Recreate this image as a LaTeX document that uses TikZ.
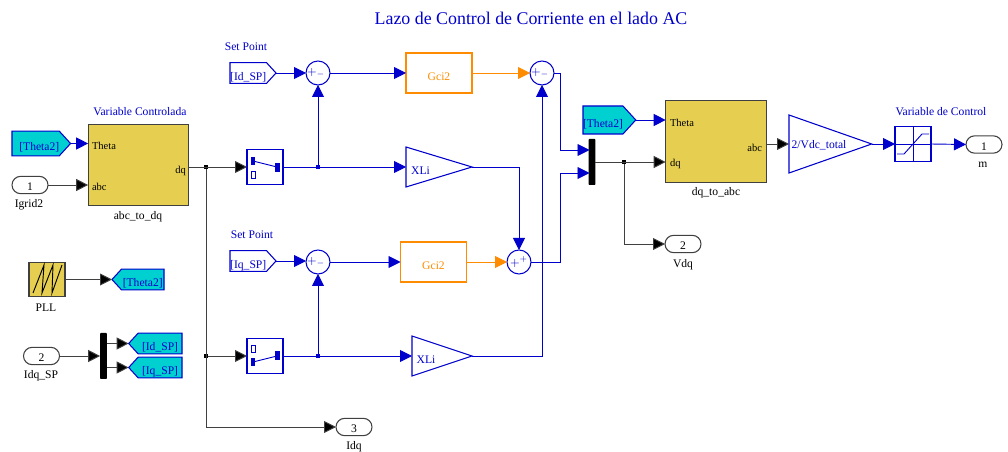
\documentclass[tikz,border=0pt]{standalone}
\usepackage{fontspec}
\setmainfont{Liberation Serif}
\usepackage{tikz}
\usetikzlibrary{arrows.meta, calc, shapes.geometric, shapes.misc, shapes.symbols}
\definecolor{simblue}{HTML}{0000CC}
\definecolor{simorange}{HTML}{FF8C00}
\definecolor{simcyan}{HTML}{00D0D0}
\definecolor{simyellow}{HTML}{E6CF50}
\definecolor{simedge}{HTML}{404040}

\begin{document}
\begin{tikzpicture}[
  x=0.75pt, y=-0.75pt,
  >={Triangle[length=9pt,width=9pt]},
  every node/.style={font=\fontsize{8.7}{10}\selectfont, outer sep=0pt, inner sep=0pt},
  lblb/.style={text=simblue},
  lblk/.style={text=black},
  port/.style={text=black, font=\fontsize{7.9}{9}\selectfont},
  subsys/.style={draw=simedge, fill=simyellow, line width=0.9pt, minimum width=75.5pt, minimum height=61pt},
  ctrl/.style={draw=simorange, text=simorange, line width=0.8pt, minimum width=49.5pt, minimum height=30pt, text height=11pt, text depth=0pt},
  gainb/.style={draw=simblue, text=simblue, line width=0.8pt, isosceles triangle, isosceles triangle stretches, anchor=lower side, text height=11pt, text depth=0pt},
  sumc/.style={draw=simblue, text=simblue, circle, line width=0.8pt, minimum size=18pt},
  tag/.style={draw=simblue, text=simblue, line width=0.8pt, signal, signal pointer angle=95, minimum height=15.5pt, text height=11pt, text depth=0pt},
  swb/.style={draw=simblue, line width=0.8pt, minimum width=27pt, minimum height=26.5pt},
  inout/.style={draw=simedge, rounded rectangle, line width=0.8pt, minimum width=27pt, minimum height=13pt, text=black, text height=8.5pt, text depth=0pt},
  bar/.style={fill=black, rounded corners=0.5pt, minimum width=5pt, minimum height=34.5pt},
  dotk/.style={fill=black, minimum size=2.5pt},
  dotb/.style={fill=simblue, minimum size=2.5pt},
  arrk/.style={->, simedge, line width=0.7pt, -{Triangle[length=9pt,width=9pt,fill=black]}},
  arrb/.style={->, simblue, line width=0.7pt},
  arro/.style={->, simorange, line width=0.7pt},
  swicon/.pic={
    \draw[simblue, line width=0.7pt] (-12,-6) -- (12,0);
    \fill[simblue] (-14,-10) rectangle (-10,-2);
    \fill[simblue] (10,-4) rectangle (15,5);
    \draw[simblue, line width=0.7pt] (-14,4) rectangle (-10,11);
  },
]
\useasboundingbox (0,0) rectangle (1008,452);

%% ── Title ─────────────────────────────────────────────────────────────────
\node[lblb, font=\fontsize{13.4}{15}\selectfont] (title) at (531,18) {Lazo de Control de Corriente en el lado AC};

%% ── Left column ───────────────────────────────────────────────────────────
\node[tag, fill=simcyan, anchor=west, minimum width=43.5pt, minimum height=18.5pt] (tagThetaA) at (12,143.5) {\kern5.5pt[Theta2]};
\node[inout] (inIgrid) at (30,185) {1};
\node[lblk] (lblIgrid) at (29,205) {Igrid2};

\node[subsys] (blkAbc) at (138.5,165) {};
\node[lblb] (lblVar) at (140,112) {Variable Controlada};
\node[lblk] (lblAbc) at (138,217) {abc\_to\_dq};
\node[port, anchor=west] (pTheta) at (92,146) {Theta};
\node[port, anchor=west] (pAbc) at (92,187) {abc};
\node[port, anchor=east] (pDq) at (186,171) {dq};

\node[subsys, minimum width=27pt, minimum height=26pt] (blkPll) at (47,279.5) {};
\draw[black, line width=0.7pt] (33,293) -- (44,265) -- (42,293) -- (53,265) -- (52,293) -- (62,265);
\node[lblk] (lblPll) at (46,308) {PLL};
\node[tag, fill=simcyan, signal to=west, anchor=east, minimum width=39pt] (tagThetaB) at (164,279.5) {[Theta2]};

\node[inout] (inIdq) at (41.5,356) {2};
\node[lblk] (lblIdq) at (41,376) {Idq\_SP};
\node[bar] (demux) at (103.5,356) {};
\node[tag, fill=simcyan, signal to=west, anchor=east, minimum width=40pt] (tagIdB) at (182,343.5) {[Id\_SP]};
\node[tag, fill=simcyan, signal to=west, anchor=east, minimum width=40pt] (tagIqB) at (182,367.5) {[Iq\_SP]};

%% ── Upper branch ──────────────────────────────────────────────────────────
\node[lblb] (lblSetA) at (246,47) {Set Point};
\node[tag, anchor=west, minimum width=34.5pt] (tagIdA) at (230,73) {[Id\_SP]};
\node[sumc] (sumA) at (318,73) {$+_{-}$\kern3pt};
\node[ctrl] (gciA) at (439,73) {Gci2};
\node[sumc] (sumB) at (542,73) {$+_{-}$\kern3pt};
\node[swb] (swA) at (265,167) {};
\pic at (swA) {swicon};
\node[gainb, minimum height=49.5pt, minimum width=30pt] (xliA) at (406,167) {XLi};

%% ── Lower branch ──────────────────────────────────────────────────────────
\node[lblb] (lblSetB) at (252,235) {Set Point};
\node[tag, anchor=west, minimum width=34.5pt] (tagIqA) at (230,261) {[Iq\_SP]};
\node[sumc] (sumC) at (318,262) {$+_{-}$\kern3pt};
\node[ctrl] (gciB) at (433.5,262) {Gci2};
\node[sumc] (sumD) at (519,262) {$+^{+}$};
\node[swb] (swB) at (265,356) {};
\pic[yscale=-1] at (swB) {swicon};
\node[gainb, minimum height=45pt, minimum width=30pt] (xliB) at (412,356) {XLi};

%% ── Right part ────────────────────────────────────────────────────────────
\node[tag, fill=simcyan, anchor=west, minimum width=39pt, minimum height=21pt] (tagThetaC) at (583,120) {[Theta2]};
\node[bar] (mux) at (592,162) {};
\coordinate (jogA) at (560,150);
\coordinate (jogB) at (560,173);
\coordinate (muxInA) at (589.5,150);
\coordinate (muxInB) at (589.5,173);
\node[subsys] (blkDq) at (716,141.5) {};
\node[port, anchor=west] (qTheta) at (670,123) {Theta};
\node[port, anchor=west] (qDq) at (670,164) {dq};
\node[port, anchor=east] (qAbc) at (762,148) {abc};
\node[lblk] (lblDq) at (716,193) {dq\_to\_abc};
\node[gainb, minimum height=62pt, minimum width=40.5pt, text height=7pt] (gainV) at (789,144) {2/Vdc\_total\kern3pt};
\node[swb] (satb) at (913,144) {};
\draw[simblue, line width=0.7pt] (satb.north) -- (satb.south) (satb.west) -- (satb.east);
\draw[simblue, line width=0.7pt] (897,154) -- (904,154) -- (922,134) -- (929,134);
\node[lblb] (lblCtl) at (941,112) {Variable de Control};
\node[inout] (outM) at (984,144.5) {1};
\node[lblk] (lblM) at (983,165) {m};
\node[inout] (outV) at (683,244) {2};
\node[lblk] (lblV) at (683,265) {Vdq};
\node[inout] (outI) at (354,427) {3};
\node[lblk] (lblI) at (354,447) {Idq};

%% ── Junctions ─────────────────────────────────────────────────────────────
\node[dotk] (jA) at (206,167) {};
\node[dotk] (jC) at (206,356) {};
\node[dotk] (jM) at (624,162) {};
\node[dotb] (jE) at (318,167) {};
\node[dotb] (jF) at (318,356) {};

%% ── Black wires ───────────────────────────────────────────────────────────
\draw[arrk] (inIgrid.east) -- (inIgrid.east -| blkAbc.west);
\draw[arrk] (blkAbc.east |- swA) -- (swA.west);
\draw[arrk] (jA) |- (outI.west);
\draw[arrk] (jC) -- (swB.west);
\draw[arrk] (blkPll.east) -- (tagThetaB.west);
\draw[arrk] (inIdq.east) -- (demux.west);
\draw[arrk] (demux.east |- tagIdB.west) -- (tagIdB.west);
\draw[arrk] (demux.east |- tagIqB.west) -- (tagIqB.west);
\draw[arrk] (mux.east) -- (mux.east -| blkDq.west);
\draw[arrk] (jM) |- (outV.west);
\draw[arrk] (gainV.lower side -| blkDq.east) -- (gainV.lower side);

%% ── Blue wires ────────────────────────────────────────────────────────────
\draw[arrb] (tagThetaA.east) -- (tagThetaA.east -| blkAbc.west);
\draw[arrb] (tagIdA.east) -- (sumA.west);
\draw[arrb] (sumA.east) -- (gciA.west);
\draw[arrb] (swA.east) -- (xliA.lower side);
\draw[arrb] (jE) -- (sumA.south);
\draw[arrb] (xliA.apex) -| (sumD.north);
\draw[arrb] (tagIqA.east) -- (tagIqA.east -| sumC.west);
\draw[arrb] (sumC.east) -- (gciB.west);
\draw[arrb] (swB.east) -- (xliB.lower side);
\draw[arrb] (jF) -- (sumC.south);
\draw[arrb] (xliB.apex) -| (sumB.south);
\draw[arrb] (sumB.east) -| (jogA) -- (muxInA);
\draw[arrb] (sumD.east) -| (jogB) -- (muxInB);
\draw[arrb] (tagThetaC.east) -- (tagThetaC.east -| blkDq.west);
\draw[arrb] (gainV.apex) -- (satb.west);
\draw[arrb] (satb.east) -- (outM.west);

%% ── Orange wires ──────────────────────────────────────────────────────────
\draw[arro] (gciA.east) -- (sumB.west);
\draw[arro] (gciB.east) -- (sumD.west);

\end{tikzpicture}
\end{document}
